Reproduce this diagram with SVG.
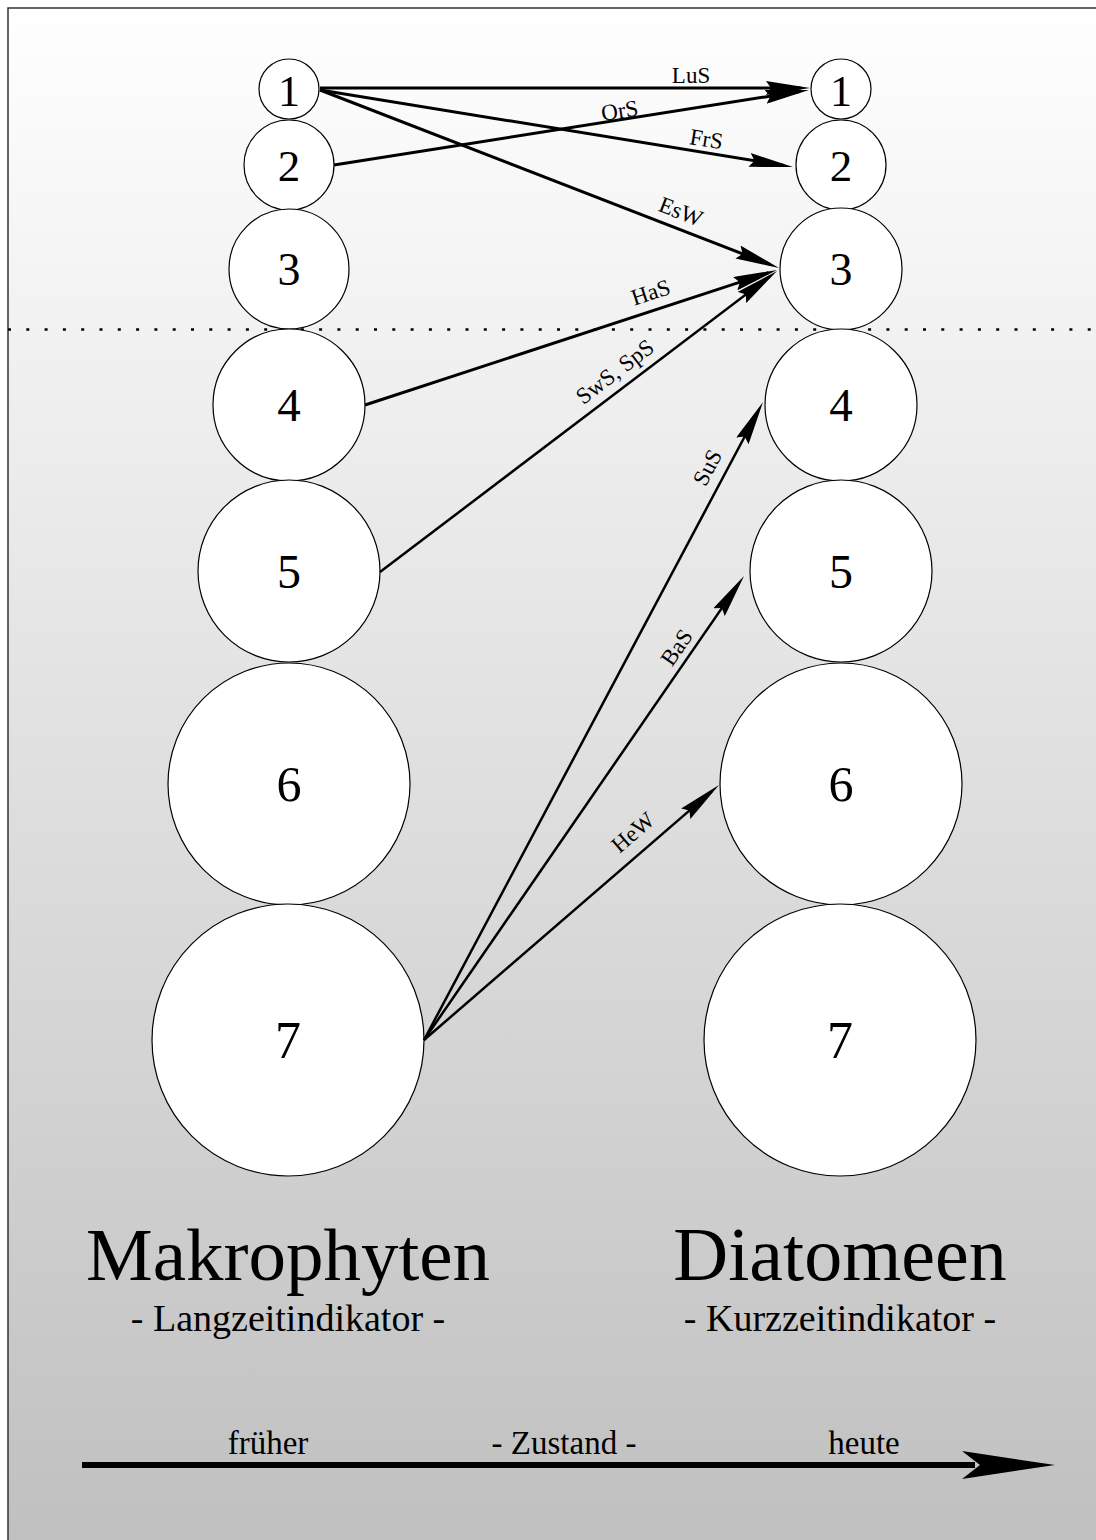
<svg xmlns="http://www.w3.org/2000/svg" width="1096" height="1540" viewBox="0 0 1096 1540">
<defs>
<linearGradient id="bg" x1="0" y1="0" x2="0" y2="1540" gradientUnits="userSpaceOnUse">
<stop offset="0" stop-color="#ffffff"/>
<stop offset="1" stop-color="#c0c0c0"/>
</linearGradient>
<marker id="ah" viewBox="0 0 44 14" refX="35" refY="7" markerWidth="44" markerHeight="14" markerUnits="userSpaceOnUse" orient="auto">
<path d="M0,0 L44,7 L0,14 L5,7 Z" fill="#000"/>
</marker>
<marker id="bigah" viewBox="0 0 93 28" refX="13" refY="14" markerWidth="93" markerHeight="28" markerUnits="userSpaceOnUse" orient="auto">
<path d="M0,0 L93,14 L0,28 L18,14 Z" fill="#000"/>
</marker>
</defs>
<style>
.node circle { fill: #ffffff; stroke: #000; stroke-width: 1.2; }
.num { font-family: "Liberation Serif", "Times New Roman", serif; text-anchor: middle; fill: #000; }
.conn line { stroke: #000; fill: none; marker-end: url(#ah); }
.thick { stroke-width: 3; }
.thin { stroke-width: 2.5; }
.lbl { font-family: "Liberation Serif", "Times New Roman", serif; font-size: 23px; text-anchor: middle; fill: #000; }
.title { font-family: "Liberation Serif", "Times New Roman", serif; text-anchor: middle; fill: #000; }
</style>
<rect x="0" y="0" width="1096" height="1540" fill="#ffffff"/>
<rect x="8" y="8" width="1100" height="1545" fill="url(#bg)" stroke="#333" stroke-width="1.5"/>
<line x1="8" y1="329.5" x2="1096" y2="329.5" stroke="#000" stroke-width="2.7" stroke-dasharray="3 15.3"/>

<g id="left-1" class="node"><circle cx="289" cy="89" r="30"/><text class="num" x="289" y="106" font-size="44">1</text></g>
<g id="left-2" class="node"><circle cx="289" cy="165" r="45"/><text class="num" x="289" y="181" font-size="45">2</text></g>
<g id="left-3" class="node"><circle cx="289" cy="269" r="60"/><text class="num" x="289" y="285" font-size="46">3</text></g>
<g id="left-4" class="node"><circle cx="289" cy="405" r="76"/><text class="num" x="289" y="421" font-size="47">4</text></g>
<g id="left-5" class="node"><circle cx="289" cy="571" r="91"/><text class="num" x="289" y="588" font-size="48">5</text></g>
<g id="left-6" class="node"><circle cx="289" cy="784" r="121"/><text class="num" x="289" y="801" font-size="50">6</text></g>
<g id="left-7" class="node"><circle cx="288" cy="1040" r="136"/><text class="num" x="288" y="1058" font-size="52">7</text></g>

<g id="right-1" class="node"><circle cx="841" cy="89" r="30"/><text class="num" x="841" y="106" font-size="44">1</text></g>
<g id="right-2" class="node"><circle cx="841" cy="165" r="45"/><text class="num" x="841" y="181" font-size="45">2</text></g>
<g id="right-3" class="node"><circle cx="841" cy="269" r="61"/><text class="num" x="841" y="285" font-size="46">3</text></g>
<g id="right-4" class="node"><circle cx="841" cy="405" r="76"/><text class="num" x="841" y="421" font-size="47">4</text></g>
<g id="right-5" class="node"><circle cx="841" cy="571" r="91"/><text class="num" x="841" y="588" font-size="48">5</text></g>
<g id="right-6" class="node"><circle cx="841" cy="784" r="121"/><text class="num" x="841" y="801" font-size="50">6</text></g>
<g id="right-7" class="node"><circle cx="840" cy="1040" r="136"/><text class="num" x="840" y="1058" font-size="52">7</text></g>

<g id="connectors" class="conn">
<line class="thick" x1="320" y1="88" x2="801" y2="88"/>
<line class="thick" x1="334" y1="165" x2="800.1" y2="91.4"/>
<line class="thick" x1="320" y1="90" x2="784.1" y2="165.55"/>
<line class="thick" x1="320" y1="90" x2="770.6" y2="264.7"/>
<line class="thick" x1="365" y1="405" x2="768.4" y2="272.8"/>
<line class="thin" x1="380" y1="572" x2="769.8" y2="276.4"/>
<line class="thin" x1="424" y1="1040" x2="758.8" y2="410"/>
<line class="thin" x1="424" y1="1040" x2="738.9" y2="583.4"/>
<line class="thin" x1="424" y1="1040" x2="712.2" y2="790.9"/>
</g>

<g id="connector-labels">
<text class="lbl" x="691" y="83">LuS</text>
<text class="lbl" transform="translate(620.8,118.2) rotate(-8.97)">OrS</text>
<text class="lbl" transform="translate(705.2,146.6) rotate(9.25)">FrS</text>
<text class="lbl" transform="translate(678.1,218.7) rotate(21.2)">EsW</text>
<text class="lbl" transform="translate(653.1,299.6) rotate(-18.1)">HaS</text>
<text class="lbl" transform="translate(619.5,377.7) rotate(-37.2)">SwS, SpS</text>
<text class="lbl" transform="translate(714.1,471) rotate(-62)">SuS</text>
<text class="lbl" transform="translate(682.9,651.8) rotate(-55.4)">BaS</text>
<text class="lbl" transform="translate(637.9,838.2) rotate(-40.8)">HeW</text>
</g>

<g id="titles">
<text class="title" x="288" y="1280" font-size="75">Makrophyten</text>
<text class="title" x="288" y="1331" font-size="38">- Langzeitindikator -</text>
<text class="title" x="840" y="1280" font-size="76">Diatomeen</text>
<text class="title" x="840" y="1331" font-size="38">- Kurzzeitindikator -</text>
</g>

<g id="timeline">
<line x1="82" y1="1465" x2="975" y2="1465" stroke="#000" stroke-width="6" marker-end="url(#bigah)"/>
<text class="title" x="268" y="1454" font-size="33">früher</text>
<text class="title" x="564" y="1454" font-size="33">- Zustand -</text>
<text class="title" x="864" y="1454" font-size="33">heute</text>
</g>
</svg>
